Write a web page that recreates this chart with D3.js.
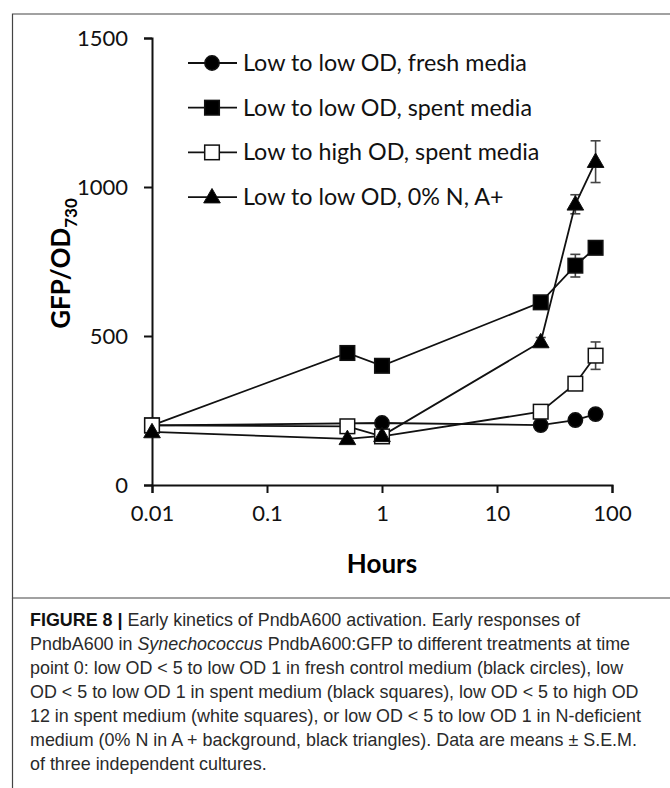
<!DOCTYPE html>
<html>
<head>
<meta charset="utf-8">
<script src="https://cdn.jsdelivr.net/npm/d3@7"></script>
<style>
  body { margin: 0; background: #fff; }
  svg { display: block; }
</style>
</head>
<body>
<div id="chartArea"></div>
<script>
const w = 670;
const h = 788;

// data
const hours = [0.01, 0.5, 1, 24, 48, 72];
const freshMedia = [200, null, 208, 201, 218, 238];
const spentMedia = [200, 443, 400, 613, 736, 796];
const highOD = [200, 197, 163, 246, 340, 434];
const zeroN = [178, 155, 165, 480, 942, 1085];
const spentErr = [0, 0, 0, 10, 38, 0];
const highErr = [0, 0, 15, 0, 0, 46];
const zeroNErr = [0, 0, 0, 15, 32, 70];
const yTicks = [0, 500, 1000, 1500];
const xTicks = [0.01, 0.1, 1, 10, 100];
const legendLabels = [
    "Low to low OD, fresh media",
    "Low to low OD, spent media",
    "Low to high OD, spent media",
    "Low to low OD, 0% N, A+"
];

const series = [
    {name: legendLabels[0], vals: freshMedia, err: null, shape: "circle", fill: "black"},
    {name: legendLabels[1], vals: spentMedia, err: spentErr, shape: "square", fill: "black"},
    {name: legendLabels[2], vals: highOD, err: highErr, shape: "square", fill: "white"},
    {name: legendLabels[3], vals: zeroN, err: zeroNErr, shape: "triangle", fill: "black"}
];

const font = "Lato, 'Open Sans', sans-serif";

const svg = d3.select("#chartArea")
    .append("svg")
    .attr("width", w)
    .attr("height", h);

// figure frame
svg.append("path")
    .attr("d", `M${w + 5},14 H12.5 V598 H${w + 5}`)
    .attr("fill", "none")
    .attr("stroke", "#444")
    .attr("stroke-width", 1.2);
svg.append("line")
    .attr("x1", 12.5).attr("x2", 12.5)
    .attr("y1", 598).attr("y2", h)
    .attr("stroke", "#444")
    .attr("stroke-width", 1.2);

const x = d3.scaleLog()
    .domain([0.01, 100])
    .range([152, 612]);

const y = d3.scaleLinear()
    .domain([0, 1500])
    .range([485, 38]);

const yAxis = d3.axisLeft(y)
    .tickValues(yTicks)
    .tickSize(8)
    .tickPadding(16)
    .tickFormat(d3.format("d"));

const xAxis = d3.axisBottom(x)
    .tickValues(xTicks)
    .tickSize(8)
    .tickPadding(12)
    .tickFormat(d => d < 1 ? String(d) : d3.format("d")(d));

const gy = svg.append("g")
    .attr("transform", `translate(${x(0.01)},0)`)
    .call(yAxis);
const gx = svg.append("g")
    .attr("transform", `translate(0,${y(0)})`)
    .call(xAxis);

[gx, gy].forEach(g => {
    g.select(".domain").attr("stroke", "#111").attr("stroke-width", 2);
    g.selectAll(".tick line").attr("stroke", "#111").attr("stroke-width", 2);
    g.selectAll(".tick text")
        .attr("fill", "#111")
        .style("font-family", font)
        .style("font-size", "22px");
});

// axis titles
svg.append("text")
    .attr("transform", `translate(70,${y(750) + 2}) rotate(-90)`)
    .attr("text-anchor", "middle")
    .style("font-family", font)
    .style("font-weight", "bold")
    .style("font-size", "26px")
    .call(t => {
        t.append("tspan").text("GFP/OD");
        t.append("tspan").attr("dy", 7).style("font-size", "17px").text("730");
    });

svg.append("text")
    .attr("x", x(1))
    .attr("y", 573)
    .attr("text-anchor", "middle")
    .style("font-family", font)
    .style("font-weight", "bold")
    .style("font-size", "26px")
    .text("Hours");

function drawMarker(g, shape, fill, cx, cy) {
    if (shape === "circle") {
        g.append("circle").attr("cx", cx).attr("cy", cy).attr("r", 7.2)
            .attr("fill", fill).attr("stroke", "#111").attr("stroke-width", 1.5);
    } else if (shape === "square") {
        g.append("rect").attr("x", cx - 7.3).attr("y", cy - 7.3)
            .attr("width", 14.6).attr("height", 14.6)
            .attr("fill", fill).attr("stroke", "#111").attr("stroke-width", 1.5);
    } else {
        const tri = d3.symbol().type(d3.symbolTriangle).size(120);
        g.append("path").attr("transform", `translate(${cx},${cy + 1})`)
            .attr("d", tri()).attr("fill", fill).attr("stroke", "#111").attr("stroke-width", 1);
    }
}

const line = d3.line()
    .x(d => x(d.h))
    .y(d => y(d.v));

const plot = svg.append("g");

// error bars
series.forEach(s => {
    if (!s.err) return;
    hours.forEach((hh, i) => {
        const e = s.err[i];
        if (!e) return;
        const cx = x(hh);
        const g = plot.append("g").attr("stroke", "#444").attr("stroke-width", 1.6);
        g.append("line").attr("x1", cx).attr("x2", cx).attr("y1", y(s.vals[i] - e)).attr("y2", y(s.vals[i] + e));
        g.append("line").attr("x1", cx - 5).attr("x2", cx + 5).attr("y1", y(s.vals[i] - e)).attr("y2", y(s.vals[i] - e));
        g.append("line").attr("x1", cx - 5).attr("x2", cx + 5).attr("y1", y(s.vals[i] + e)).attr("y2", y(s.vals[i] + e));
    });
});

// lines
series.forEach(s => {
    const pts = hours.map((hh, i) => ({h: hh, v: s.vals[i]})).filter(d => d.v !== null);
    plot.append("path")
        .datum(pts)
        .attr("d", line)
        .attr("fill", "none")
        .attr("stroke", "#111")
        .attr("stroke-width", 1.8);
});

// markers
series.forEach(s => {
    const g = plot.append("g");
    hours.forEach((hh, i) => {
        if (s.vals[i] === null) return;
        drawMarker(g, s.shape, s.fill, x(hh), y(s.vals[i]));
    });
});

// legend
const legend = svg.append("g");
series.forEach((s, i) => {
    const ly = 63 + i * 44.7;
    const g = legend.append("g");
    g.append("line").attr("x1", 188).attr("x2", 237).attr("y1", ly).attr("y2", ly)
        .attr("stroke", "#111").attr("stroke-width", 1.8);
    drawMarker(g, s.shape, s.fill, 212, ly);
    g.append("text")
        .attr("x", 243)
        .attr("y", ly + 8)
        .style("font-family", font)
        .style("font-size", "23.3px")
        .attr("fill", "#111")
        .text(s.name);
});

// caption
const capLines = [
    [["b", "FIGURE 8 | "], ["n", "Early kinetics of PndbA600 activation. Early responses of"]],
    [["n", "PndbA600 in "], ["i", "Synechococcus"], ["n", " PndbA600:GFP to different treatments at time"]],
    [["n", "point 0: low OD < 5 to low OD 1 in fresh control medium (black circles), low"]],
    [["n", "OD < 5 to low OD 1 in spent medium (black squares), low OD < 5 to high OD"]],
    [["n", "12 in spent medium (white squares), or low OD < 5 to low OD 1 in N-deficient"]],
    [["n", "medium (0% N in A + background, black triangles). Data are means \u00b1 S.E.M."]],
    [["n", "of three independent cultures."]]
];

const cap = svg.append("g")
    .style("font-family", "'Liberation Sans', Arial, sans-serif")
    .style("font-size", "17.9px")
    .attr("fill", "#2a2a2a");

capLines.forEach((parts, i) => {
    const t = cap.append("text").attr("x", 30).attr("y", 626 + i * 24);
    parts.forEach(p => {
        const sp = t.append("tspan").text(p[1]);
        if (p[0] === "b") sp.style("font-weight", "bold").attr("fill", "#111");
        if (p[0] === "i") sp.style("font-style", "italic");
    });
});
</script>
</body>
</html>
